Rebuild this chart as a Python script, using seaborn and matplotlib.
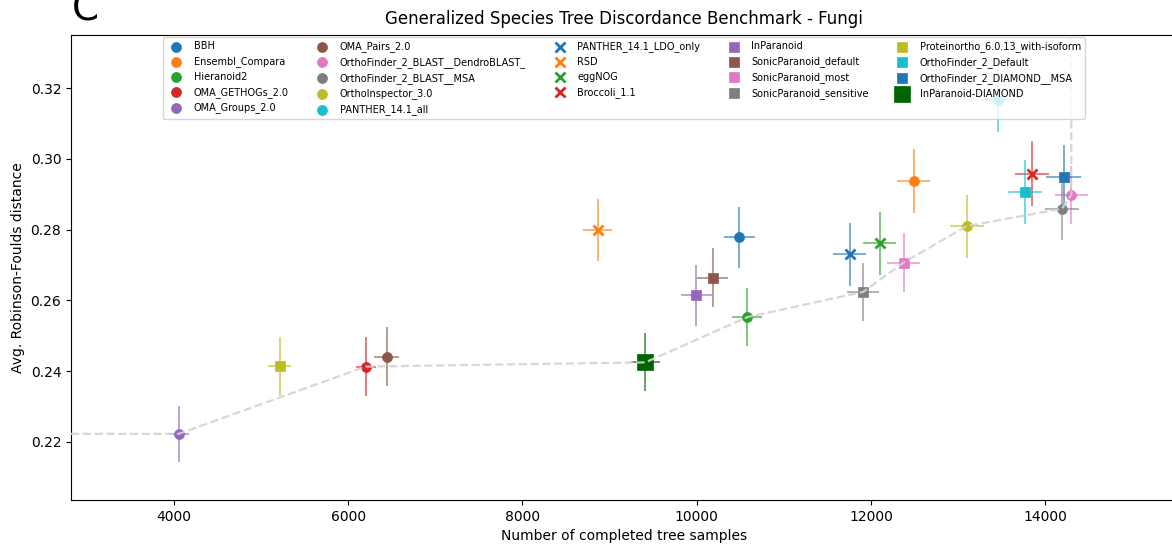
import numpy as np
import pandas as pd
import matplotlib
matplotlib.use("Agg")
import matplotlib.pyplot as plt
import seaborn as sns

# ---------------- data ----------------
methods = ["BBH", "Ensembl_Compara", "Hieranoid2", "OMA_GETHOGs_2.0", "OMA_Groups_2.0",
           "OMA_Pairs_2.0", "OrthoFinder_2_BLAST__DendroBLAST_", "OrthoFinder_2_BLAST__MSA",
           "OrthoInspector_3.0", "PANTHER_14.1_all",
           "PANTHER_14.1_LDO_only", "RSD", "eggNOG", "Broccoli_1.1",
           "InParanoid", "SonicParanoid_default", "SonicParanoid_most", "SonicParanoid_sensitive",
           "Proteinortho_6.0.13_with-isoform", "OrthoFinder_2_Default", "OrthoFinder_2_DIAMOND__MSA",
           "InParanoid-DIAMOND"]
n_samples = [10491, 12491, 10583, 6203, 4054,
             6440, 14300, 14193, 13099, 13459,
             11757, 8862, 12101, 13849,
             9997, 10185, 12376, 11910,
             5213, 13768, 14212,
             9412]
rf_dist = [0.2778, 0.2938, 0.2553, 0.2413, 0.2223,
           0.2441, 0.2898, 0.2859, 0.2810, 0.3166,
           0.2730, 0.2798, 0.2761, 0.2958,
           0.2615, 0.2664, 0.2707, 0.2624,
           0.2414, 0.2907, 0.2948,
           0.2425]
n_err = [182, 191, 172, 111, 115,
         147, 191, 191, 195, 191,
         187, 166, 187, 200,
         176, 176, 186, 181,
         134, 193, 200,
         162]
rf_err = [0.0086, 0.0091, 0.0083, 0.0083, 0.0080,
          0.0084, 0.0081, 0.0089, 0.0089, 0.0089,
          0.0088, 0.0088, 0.0088, 0.0091,
          0.0086, 0.0083, 0.0084, 0.0083,
          0.0083, 0.0091, 0.0091,
          0.0082]

title = "Generalized Species Tree Discordance Benchmark - Fungi"
xlabel = "Number of completed tree samples"
ylabel = "Avg. Robinson-Foulds distance"

# ---------------- styling ----------------
sns.set_style("ticks")
plt.rcParams["font.family"] = ["DejaVu Sans"]
plt.rcParams["text.color"] = "black"
plt.rcParams["axes.labelcolor"] = "black"
plt.rcParams["xtick.color"] = "black"
plt.rcParams["ytick.color"] = "black"
plt.rcParams["axes.edgecolor"] = "black"

tab10 = sns.color_palette("tab10")
marker_kinds = ["o"] * 10 + ["x"] * 4 + ["s"] * 7 + ["s"]
colors = [tab10[i % 10] for i in range(10)] + [tab10[i] for i in range(4)] + \
         [tab10[(4 + i) % 10] for i in range(7)] + ["darkgreen"]
msizes = [7.2] * 21 + [11.5]

df = pd.DataFrame({"method": methods, "x": n_samples, "y": rf_dist,
                   "xerr": n_err, "yerr": rf_err})

fig = plt.figure(figsize=(11.72, 5.46), dpi=100)
ax = fig.add_axes([0.0606, 0.0842, 0.9434, 0.8518])

xlim = (2818, 15510)
ylim = (0.2036, 0.3350)

# error bars
for i, r in df.iterrows():
    ax.errorbar(r["x"], r["y"], xerr=r["xerr"], yerr=r["yerr"], fmt="none",
                ecolor=colors[i], alpha=0.6, elinewidth=1.4, capsize=0, zorder=2)

# markers
for i, r in df.iterrows():
    m = marker_kinds[i]
    if m == "x":
        sns.scatterplot(x=[r["x"]], y=[r["y"]], marker="x", color=colors[i],
                        s=msizes[i] ** 2, linewidth=2, label=r["method"], ax=ax, zorder=3)
    else:
        sns.scatterplot(x=[r["x"]], y=[r["y"]], marker=m, color=colors[i],
                        edgecolor=colors[i], linewidth=0.5,
                        s=msizes[i] ** 2, label=r["method"], ax=ax, zorder=3)

# Pareto front (higher x better, lower y better)
pts = df.sort_values("x", ascending=False)
front = []
best = np.inf
for _, r in pts.iterrows():
    if r["y"] < best:
        front.append((r["x"], r["y"]))
        best = r["y"]
front = front[::-1]  # ascending x
fx = [xlim[0]] + [p[0] for p in front] + [front[-1][0]]
fy = [front[0][1]] + [p[1] for p in front] + [ylim[1]]
sns.lineplot(x=fx, y=fy, sort=False, estimator=None, color="lightgray", alpha=0.9,
             linestyle="--", linewidth=1.6, ax=ax, zorder=4, legend=False)

ax.set_xlim(*xlim)
ax.set_ylim(*ylim)
ax.set_xticks([4000, 6000, 8000, 10000, 12000, 14000])
ax.set_yticks([0.22, 0.24, 0.26, 0.28, 0.30, 0.32])
ax.tick_params(labelsize=10)
ax.set_xlabel(xlabel, fontsize=10)
ax.set_ylabel(ylabel, fontsize=10)
ax.set_title(title, fontsize=12, pad=8)

leg = ax.legend(loc="upper center", ncol=5, fontsize=7, framealpha=0.8,
                borderaxespad=0.25, columnspacing=2.45, handletextpad=0.8)

fig.text(0.061, 0.963, "C", fontsize=28, ha="left", va="baseline")

fig.savefig("out.png", dpi=100)
